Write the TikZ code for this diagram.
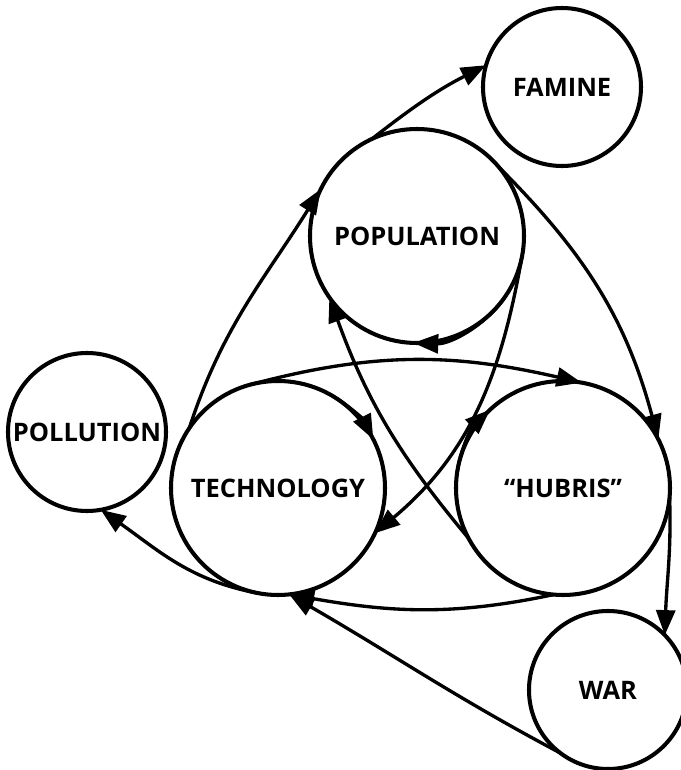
\documentclass[tikz,border=0pt]{standalone}
\usepackage{fontspec}
\setmainfont{Open Sans}
\usetikzlibrary{arrows.meta}
\newcommand{\Rbig}{2.14cm}
\newcommand{\Rsml}{1.58cm}

\begin{document}
\begin{tikzpicture}[
    loop/.style={circle, draw=black, line width=2.3pt, inner sep=0pt, outer sep=0pt,
      font=\bfseries\fontsize{14.5}{16}\selectfont},
    big/.style={loop, minimum size=2*\Rbig},
    sml/.style={loop, minimum size=2*\Rsml},
    flow/.style={-{Triangle[length=5mm, width=3.8mm]}, line width=1.9pt},
  ]
  \useasboundingbox (0,0) rectangle (13.62,15.40);

  % --- the loops
  \node[big] (pop)    at (8.34,10.68) {POPULATION};
  \node[big] (tech)   at (5.56,5.64)  {TECHNOLOGY};
  \node[big] (hubris) at (11.26,5.64) {``HUBRIS''};
  \node[sml] (famine) at (11.24,13.66) {FAMINE};
  \node[sml] (poll)   at (1.74,6.76)  {POLLUTION};
  \node[sml] (war)    at (12.16,1.60) {WAR};

  % --- outer ring
  \draw[flow] (tech.146) to[out=72, in=238] (pop.154);
  \draw[flow] (pop.115) to[out=38, in=207] (famine.164);
  \draw[flow] (pop.40) to[out=-45, in=105] (hubris.27);
  \draw[flow] (hubris.-5) to[out=-88, in=88] (war.44);
  \draw[flow] (war.233) to[out=152, in=-30] (tech.-84);
  \draw[flow] (hubris.-95) to[out=192, in=-10] (tech.-84);
  \draw[flow] (tech.-100) to[out=170, in=-35] (poll.-80);

  % --- inner crossing
  \draw[flow] (tech.105) to[out=15, in=167] (hubris.80);
  \draw[flow] (hubris.208) to[out=130, in=-70] (pop.215);
  \draw[flow] (pop.-12) to[out=-100, in=40] (tech.-25);

  % --- heads riding on the loops
  \draw[flow] (pop.-35) arc[start angle=-35, end angle=-92, radius=\Rbig];
  \draw[flow] (tech.62) arc[start angle=62, end angle=27, radius=\Rbig];
  \draw[flow] (hubris.172) arc[start angle=172, end angle=133, radius=\Rbig];
\end{tikzpicture}
\end{document}
